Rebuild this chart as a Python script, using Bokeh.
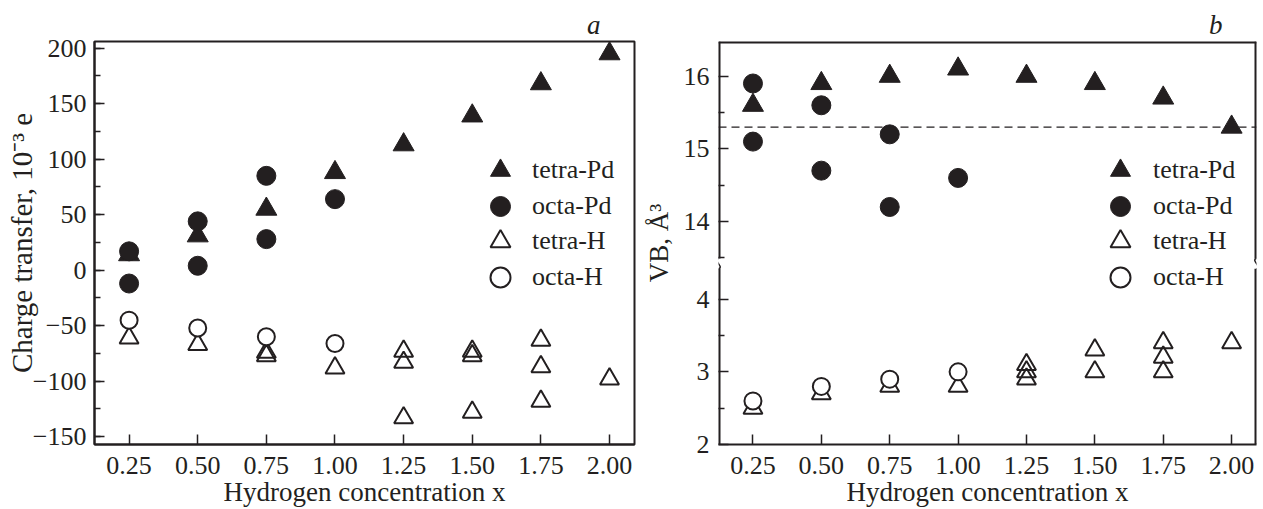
from bokeh.plotting import figure
from bokeh.models import Range1d, FixedTicker, Legend, LegendItem, Span
from bokeh.layouts import row
from bokeh.embed import file_html
from bokeh.resources import INLINE

# ---------------- data ----------------
# panel a: charge transfer, 10^-3 e
a_tetra_pd_x = [0.25, 0.50, 0.75, 1.00, 1.25, 1.50, 1.75, 2.00]
a_tetra_pd_y = [14, 31, 55, 88, 113, 139, 168, 195]
a_octa_pd_x = [0.25, 0.25, 0.50, 0.50, 0.75, 0.75, 1.00]
a_octa_pd_y = [17, -12, 44, 4, 85, 28, 64]
a_tetra_h_x = [0.25, 0.50, 0.75, 0.75, 1.00, 1.25, 1.25, 1.25, 1.50, 1.50, 1.50, 1.75, 1.75, 1.75, 2.00]
a_tetra_h_y = [-61, -67, -74, -77, -88, -73, -83, -133, -73, -77, -128, -63, -87, -118, -98]
a_octa_h_x = [0.25, 0.50, 0.75, 1.00]
a_octa_h_y = [-45, -52, -60, -66]

# panel b: V_B, A^3
b_tetra_pd_x = [0.25, 0.50, 0.75, 1.00, 1.25, 1.50, 1.75, 2.00]
b_tetra_pd_y = [15.6, 15.9, 16.0, 16.1, 16.0, 15.9, 15.7, 15.3]
b_octa_pd_x = [0.25, 0.25, 0.50, 0.50, 0.75, 0.75, 1.00]
b_octa_pd_y = [15.9, 15.1, 15.6, 14.7, 15.2, 14.2, 14.6]
b_tetra_h_x = [0.25, 0.50, 0.75, 1.00, 1.25, 1.25, 1.25, 1.50, 1.50, 1.75, 1.75, 1.75, 2.00]
b_tetra_h_y = [2.5, 2.7, 2.8, 2.8, 3.1, 3.0, 2.9, 3.3, 3.0, 3.4, 3.2, 3.0, 3.4]
b_octa_h_x = [0.25, 0.50, 0.75, 1.00]
b_octa_h_y = [2.6, 2.8, 2.9, 3.0]
b_ref_level = 15.3

series_names = ["tetra-Pd", "octa-Pd", "tetra-H", "octa-H"]

# ticks / labels
x_ticks = [0.25, 0.50, 0.75, 1.00, 1.25, 1.50, 1.75, 2.00]
x_tick_labels = ["0.25", "0.50", "0.75", "1.00", "1.25", "1.50", "1.75", "2.00"]
a_y_ticks = [-150, -100, -50, 0, 50, 100, 150, 200]
a_y_tick_labels = ["\u2212150", "\u2212100", "\u221250", "0", "50", "100", "150", "200"]
a_y_minor = [-150, -125, -100, -75, -50, -25, 0, 25, 50, 75, 100, 125, 150, 175, 200]
b_y_ticks = [2, 3, 4, 14, 15, 16]
b_y_tick_labels = ["2", "3", "4", "14", "15", "16"]
b_y_minor = [2.5, 3.5, 13.5, 14.5, 15.5]
x_title = "Hydrogen concentration x"
a_y_title = "Charge transfer, 10\u207b\u00b3 e"
b_y_title = "VB, \u00c5\u00b3"

# ---------------- style / layout ----------------
INK = "#231f20"
FONT = "Liberation Serif"
X_RANGE = (0.124, 2.091)
A_Y = (-157.0, 206.0)
B_Y = (2.0, 7.548)
B_SHIFT = 8.93            # broken axis: upper segment (14-16) drawn shifted down
BREAK_LO, BREAK_HI = 4.42, 4.56
SQ = 0.022                # half-width of the break squiggle (x units)
LEGEND_ROWS_Y = [249, 213, 178, 142]


def b_map(vals):
    return [round(v - B_SHIFT, 4) if v > 10 else v for v in vals]


def make_fig(yr, width, left, right, letter):
    p = figure(width=width, height=509, x_range=Range1d(*X_RANGE), y_range=Range1d(*yr),
               output_backend="svg", toolbar_location=None,
               min_border_left=left, min_border_right=right, min_border_top=41, min_border_bottom=63)
    p.xgrid.visible = False
    p.ygrid.visible = False
    p.outline_line_color = INK
    p.outline_line_width = 2
    p.outline_line_alpha = 1
    p.background_fill_color = "white"
    p.border_fill_color = "white"
    for ax in (p.xaxis[0], p.yaxis[0]):
        ax.axis_line_color = INK
        ax.axis_line_width = 2
        ax.major_tick_in = 10
        ax.major_tick_out = 0
        ax.minor_tick_in = 6
        ax.minor_tick_out = 0
        ax.major_tick_line_color = INK
        ax.minor_tick_line_color = INK
        ax.major_tick_line_width = 1.5
        ax.minor_tick_line_width = 1.5
        ax.major_label_text_font = FONT
        ax.major_label_text_font_size = "26px"
        ax.major_label_text_color = INK
        ax.axis_label_text_font = FONT
        ax.axis_label_text_font_size = "27px"
        ax.axis_label_text_font_style = "normal"
        ax.axis_label_text_color = INK
    p.xaxis.ticker = FixedTicker(ticks=x_ticks, minor_ticks=[])
    p.xaxis.major_label_overrides = dict(zip(x_ticks, x_tick_labels))
    p.xaxis.major_label_standoff = 12
    p.xaxis.axis_label = x_title
    p.xaxis.axis_label_standoff = 0
    p.title.text = letter
    p.title.align = "right"
    p.title.offset = 34
    p.title.standoff = 3
    p.title.text_font = FONT
    p.title.text_font_size = "27px"
    p.title.text_font_style = "italic"
    p.title.text_color = INK
    return p


def add_series(p, xs, ys):
    r1 = p.scatter(xs[0], ys[0], marker="triangle", size=21, fill_color=INK, line_color=INK, line_width=1)
    r2 = p.scatter(xs[1], ys[1], marker="circle", size=19, fill_color=INK, line_color=INK, line_width=1)
    r3 = p.scatter(xs[2], ys[2], marker="triangle", size=19, fill_color=None, line_color=INK, line_width=2)
    r4 = p.scatter(xs[3], ys[3], marker="circle", size=17, fill_color="white", line_color=INK, line_width=2)
    return [r1, r2, r3, r4]


def add_legend(p, rends, x0, standoff):
    # one legend per entry so the rows can sit closer than the glyph box
    for name, r, y0 in zip(series_names, rends, LEGEND_ROWS_Y):
        leg = Legend(items=[LegendItem(label=name, renderers=[r])], location=(x0, y0),
                     glyph_width=50, glyph_height=50, padding=0, margin=0,
                     label_standoff=standoff, background_fill_alpha=0, border_line_color=None,
                     label_text_font=FONT, label_text_font_size="26px", label_text_color=INK)
        p.add_layout(leg)


# ---------------- panel a ----------------
pa = make_fig(A_Y, 640, 94, 6, "a")
pa.yaxis.ticker = FixedTicker(ticks=a_y_ticks, minor_ticks=a_y_minor)
pa.yaxis.major_label_overrides = dict(zip(a_y_ticks, a_y_tick_labels))
pa.yaxis.major_label_standoff = 8
pa.yaxis.axis_label = a_y_title
pa.yaxis.axis_label_text_font_size = "29px"
pa.yaxis.axis_label_standoff = -8
ra = add_series(pa, [a_tetra_pd_x, a_octa_pd_x, a_tetra_h_x, a_octa_h_x],
                [a_tetra_pd_y, a_octa_pd_y, a_tetra_h_y, a_octa_h_y])
add_legend(pa, ra, 381, 7)

# ---------------- panel b (broken y axis) ----------------
pb = make_fig(B_Y, 622, 76, 6, "b")
pb.outline_line_color = None
pb.yaxis.axis_line_color = None
pb.yaxis.ticker = FixedTicker(ticks=b_map(b_y_ticks), minor_ticks=b_map(b_y_minor))
pb.yaxis.major_label_overrides = dict(zip(b_map(b_y_ticks), b_y_tick_labels))
pb.yaxis.major_label_standoff = 9
pb.yaxis.axis_label = b_y_title
pb.yaxis.axis_label_standoff = 7
# frame lines with the axis break on both sides
x0, x1 = X_RANGE
pb.segment(x0=[x0, x0, x1, x1, x0], y0=[B_Y[0], BREAK_HI, B_Y[0], BREAK_HI, B_Y[1]],
           x1=[x0, x0, x1, x1, x1], y1=[BREAK_LO, B_Y[1], BREAK_LO, B_Y[1], B_Y[1]],
           line_color=INK, line_width=4)
# break squiggles joining the gap
pb.bezier(x0=[x0, x1], y0=[BREAK_LO, BREAK_LO], x1=[x0, x1], y1=[BREAK_HI, BREAK_HI],
          cx0=[x0 + SQ, x1 + SQ], cy0=[BREAK_LO + 0.02, BREAK_LO + 0.02],
          cx1=[x0 - SQ, x1 - SQ], cy1=[BREAK_HI - 0.02, BREAK_HI - 0.02],
          line_color=INK, line_width=1.5)
pb.add_layout(Span(location=b_map([b_ref_level])[0], dimension="width", line_color=INK,
                   line_width=1.2, line_dash="8 5"))
rb = add_series(pb, [b_tetra_pd_x, b_octa_pd_x, b_tetra_h_x, b_octa_h_x],
                [b_map(b_tetra_pd_y), b_map(b_octa_pd_y), b_map(b_tetra_h_y), b_map(b_octa_h_y)])
add_legend(pb, rb, 377, 8)

layout = row(pa, pb)
open("out.html", "w").write(file_html(layout, INLINE))
